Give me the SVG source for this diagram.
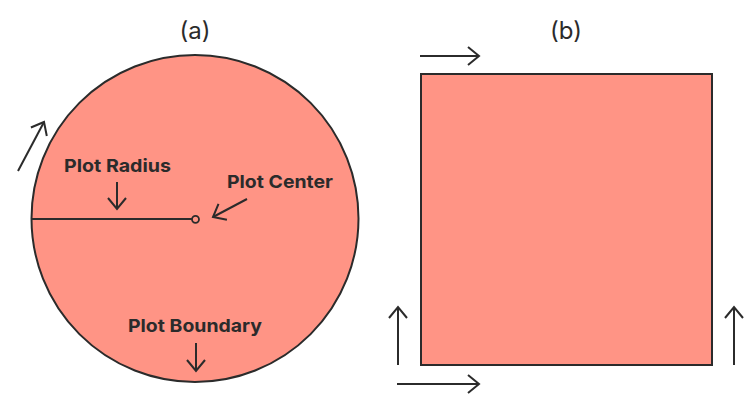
<svg xmlns="http://www.w3.org/2000/svg" width="746" height="395" viewBox="0 0 746 395">
<style>
.shape{fill:#ff9485;stroke:#2b2b2b;stroke-width:2}
.arr{fill:none;stroke:#2b2b2b;stroke-width:2;marker-end:url(#chev)}
.lbl{font-family:Inter,"Liberation Sans",sans-serif;font-weight:700;font-size:18px;fill:#2b2b2b}
.ttl{font-family:Inter,"Liberation Sans",sans-serif;font-size:24px;fill:#2b2b2b;text-anchor:middle}
</style>
<defs>
<marker id="chev" viewBox="0 0 16 20" refX="13" refY="10" markerWidth="16" markerHeight="20" markerUnits="userSpaceOnUse" orient="auto">
<path d="M2,1 L13,10 L2,19" fill="none" stroke="#2b2b2b" stroke-width="2"/>
</marker>
</defs>
<text class="ttl" x="195" y="39">(a)</text>
<text class="ttl" x="566" y="39">(b)</text>
<g id="circle-plot">
<circle class="shape" cx="195" cy="218.5" r="163.5"/>
<line x1="32" y1="219" x2="192" y2="219" stroke="#2b2b2b" stroke-width="2"/>
<circle cx="195.5" cy="219.3" r="3.5" fill="#ff9485" stroke="#2b2b2b" stroke-width="1.8"/>
<text class="lbl" x="64" y="172" textLength="107" lengthAdjust="spacingAndGlyphs">Plot Radius</text>
<text class="lbl" x="227" y="188" textLength="106" lengthAdjust="spacingAndGlyphs">Plot Center</text>
<text class="lbl" x="128" y="332" textLength="134" lengthAdjust="spacingAndGlyphs">Plot Boundary</text>
</g>
<g id="square-plot">
<rect class="shape" x="421" y="74" width="291" height="291"/>
</g>
<g id="connectors">
<line class="arr" x1="18" y1="171" x2="44" y2="122"/>
<line class="arr" x1="117" y1="182" x2="117" y2="209"/>
<line class="arr" x1="247" y1="199" x2="213" y2="217"/>
<line class="arr" x1="196" y1="343" x2="196" y2="371"/>
<line class="arr" x1="420" y1="56" x2="479" y2="56"/>
<line class="arr" x1="397" y1="384" x2="479" y2="384"/>
<line class="arr" x1="398" y1="365" x2="398" y2="307"/>
<line class="arr" x1="734" y1="365" x2="734" y2="307"/>
</g>
</svg>
